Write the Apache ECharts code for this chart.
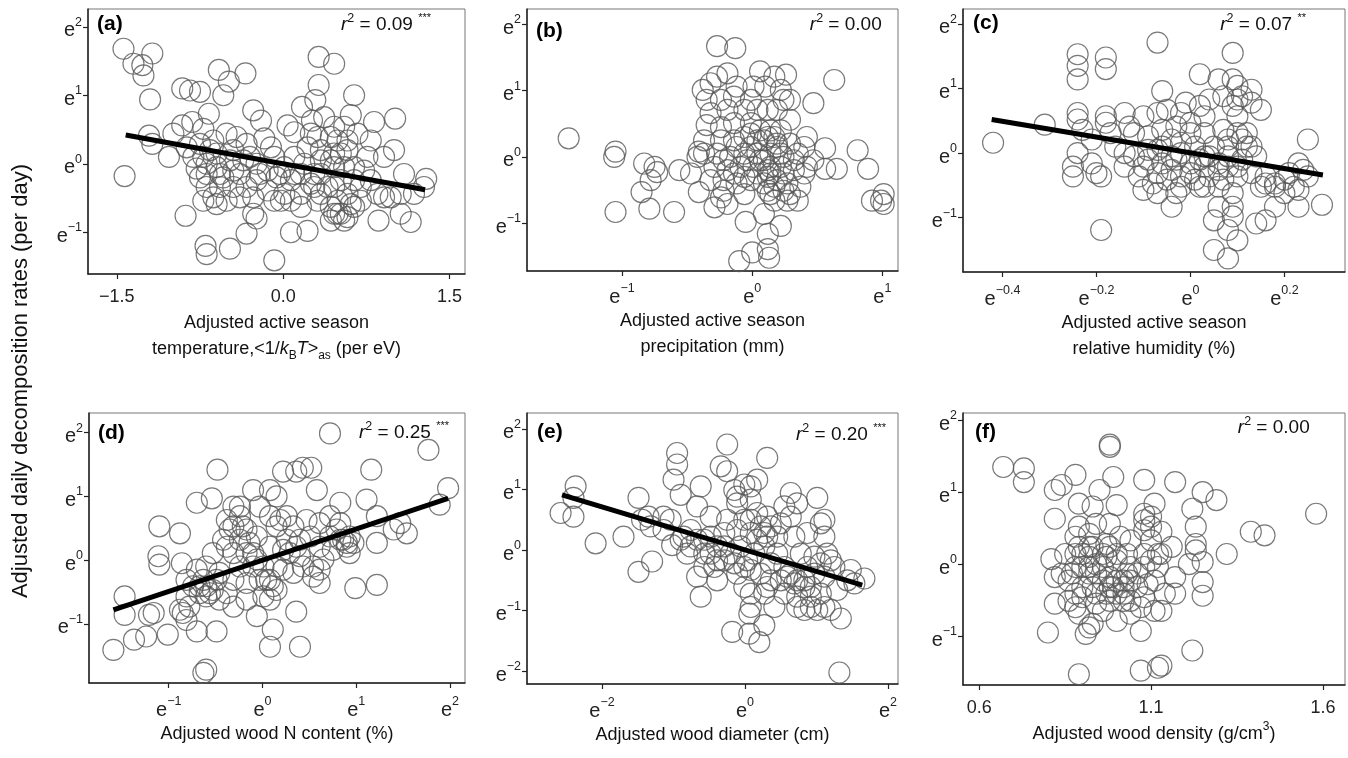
<!DOCTYPE html>
<html>
<head>
<meta charset="utf-8">
<script src="https://cdn.jsdelivr.net/npm/echarts@6/dist/echarts.min.js"></script>
<style>
  html, body { margin: 0; padding: 0; background: #fff; }
  #main { width: 1348px; height: 758px; }
</style>
</head>
<body>
<div id="main"></div>
<script>
// values are plotted on the natural-log scale (except x of a and f)
var ptsA = [[-1.44,1.68],[-1.35,1.46],[-1.18,1.61],[-1.27,1.44],[-1.26,1.29],[-1.20,0.94],[-1.43,-0.18],[-1.21,0.41],[-1.18,0.29],[-1.03,0.10],
  [-0.99,0.44],[-0.91,1.10],[-0.84,1.07],[-0.75,1.05],[-0.58,1.37],[-0.49,1.20],[-0.34,1.32],[-0.54,1.00],[-0.67,0.73],[-0.27,0.78],
  [-0.20,0.63],[-0.91,0.56],[-0.82,0.61],[-0.72,0.51],[-0.63,0.34],[-0.75,0.29],[-0.66,0.20],[-0.51,0.44],[-0.42,0.39],[-0.33,0.29],
  [-0.17,0.37],[-0.08,0.10],[0.04,0.56],[0.10,0.46],[-0.75,-0.20],[-0.69,-0.34],[-0.63,-0.49],[-0.57,-0.15],[-0.48,0.05],[-0.60,-0.05],
  [-0.39,-0.15],[-0.33,-0.34],[-0.24,-0.24],[-0.14,-0.10],[-0.06,-0.20],[0.01,-0.44],[0.10,-0.15],[0.19,0.00],[0.25,-0.29],[0.34,-0.15],
  [0.40,-0.34],[0.46,-0.05],[0.52,-0.24],[0.58,-0.44],[0.64,-0.24],[0.70,-0.54],[-0.88,-0.76],[-0.70,-1.20],[-0.69,-1.32],[-0.48,-1.24],
  [-0.33,-1.02],[-0.24,-0.80],[-0.08,-1.41],[0.07,-1.00],[0.22,-0.98],[0.43,-0.83],[0.86,-0.83],[1.15,-0.85],[1.06,-0.73],[0.58,-0.78],
  [0.52,-0.73],[1.29,-0.22],[1.09,-0.15],[1.18,-0.44],[1.00,0.20],[0.91,0.10],[0.79,0.34],[0.97,-0.49],[0.73,-0.10],[0.32,1.56],
  [0.46,1.46],[0.32,1.15],[0.29,0.93],[0.17,0.83],[0.64,1.00],[0.61,0.71],[1.01,0.66],[0.82,0.61],[0.26,0.63],[0.37,0.68],
  [0.46,0.54],[0.49,0.34],[0.43,0.39],[0.55,0.54],[0.67,0.44],[0.31,0.39],[0.22,0.24],[0.34,0.20],[0.46,0.15],[0.58,0.20],
  [0.76,0.10],[0.10,0.10],[-0.11,0.24],[-0.81,0.10],[-0.87,0.24],[-0.78,-0.07],[-0.45,-0.34],[-0.27,-0.49],[-0.14,-0.39],[0.07,-0.54],
  [0.16,-0.44],[0.31,-0.54],[0.43,-0.63],[0.49,-0.54],[0.64,-0.63],[0.85,-0.44],[0.79,-0.24],[-0.51,-0.54],[-0.57,-0.34],[-0.27,-0.73],
  [-0.36,0.05],[-0.24,0.00],[-0.03,-0.15],[-0.69,0.00],[-0.08,-0.54],[0.52,0.15],[0.64,-0.05],[0.28,-0.34],[0.46,-0.73],[1.27,-0.34],
  [-0.72,0.10],[-0.60,0.15],[-0.45,0.20],[-0.30,0.10],[-0.21,-0.15],[-0.39,-0.49],[-0.60,-0.59],[-0.72,-0.54],[0.01,-0.05],[0.07,-0.24],
  [0.16,-0.15],[0.28,-0.15],[0.34,-0.44],[0.46,-0.34],[0.55,-0.05],[0.61,-0.59],[0.70,-0.34],[0.43,0.05],[0.34,0.05],[0.58,0.34],
  [0.49,-0.73],[0.55,-0.83],[0.16,-0.63],[-0.02,-0.54],[-0.45,-0.10],[-0.54,-0.20],[-0.69,-0.15],[0.91,-0.49],[1.06,-0.44],[0.25,0.44]];

var ptsB = [[-1.41,0.28],[-1.06,0.00],[-1.05,0.08],[-1.05,-0.83],[-0.83,-0.10],[-0.75,-0.15],[-0.73,-0.23],[-0.78,-0.35],[-0.85,-0.53],[-0.79,-0.78],
  [-0.60,-0.83],[-0.56,-0.20],[-0.41,0.08],[-0.41,-0.53],[-0.27,1.67],[-0.13,1.64],[-0.27,1.21],[-0.19,1.26],[-0.38,1.01],[-0.35,0.86],
  [0.06,1.29],[0.17,1.21],[0.26,1.24],[0.01,1.06],[0.10,1.06],[0.22,1.01],[0.63,1.16],[0.47,0.81],[0.29,0.86],[-0.24,0.86],
  [-0.19,0.71],[-0.32,0.66],[-0.06,0.71],[0.12,0.71],[0.29,0.56],[-0.35,0.48],[-0.24,0.45],[-0.14,0.51],[-0.01,0.51],[0.14,0.40],
  [0.42,0.30],[0.56,0.13],[0.81,0.10],[0.65,-0.18],[0.89,-0.18],[0.56,-0.18],[1.01,-0.56],[0.92,-0.66],[1.01,-0.71],[0.99,-0.66],
  [-0.24,0.25],[-0.14,0.25],[-0.06,0.30],[0.04,0.25],[0.12,0.30],[0.19,0.20],[0.29,0.20],[-0.27,0.05],[-0.17,0.00],[-0.06,0.05],
  [0.04,0.05],[0.14,0.05],[0.24,0.00],[0.35,0.05],[-0.29,-0.15],[-0.19,-0.20],[-0.09,-0.15],[0.01,-0.15],[0.12,-0.20],[0.22,-0.15],
  [0.32,-0.20],[0.42,-0.15],[-0.32,-0.35],[-0.22,-0.35],[-0.12,-0.40],[-0.01,-0.35],[0.09,-0.40],[0.17,-0.45],[0.27,-0.40],[0.37,-0.45],
  [-0.24,-0.61],[-0.19,-0.71],[-0.06,-0.56],[0.17,-0.66],[0.27,-0.66],[0.09,-0.86],[0.22,-1.04],[-0.05,-0.98],[0.12,-1.16],[0.12,-1.39],
  [0.13,-1.52],[0.00,-1.44],[-0.10,-1.57],[-0.47,-0.25],[-0.01,0.15],[0.09,-0.05],[0.14,-0.25],[0.06,0.40],[0.22,0.40],[-0.14,0.91],
  [0.40,-0.25],[0.47,-0.05],[-0.37,0.25],[-0.06,-0.30],[0.24,-0.25],[0.12,-0.51],[-0.22,-0.51],[0.35,-0.66],[0.19,0.15],[0.04,0.71],
  [0.06,-0.05],[0.14,-0.15],[0.19,-0.35],[0.12,-0.30],[0.04,-0.25],[0.22,0.05],[0.09,0.25],[0.17,0.30],[-0.01,0.35],[-0.12,0.15],
  [-0.22,-0.05],[-0.14,-0.25],[-0.04,-0.05],[0.24,-0.51],[0.14,-0.56],[0.32,-0.05],[0.40,0.15],[-0.32,1.11],[-0.12,1.06],[-0.01,0.86],
  [0.19,0.71],[0.24,0.86],[-0.37,0.05],[-0.42,0.00],[-0.29,-0.76],[0.29,-0.56]];

var ptsC = [[-0.42,0.16],[-0.31,0.44],[-0.24,1.53],[-0.24,1.35],[-0.24,1.14],[-0.18,1.48],[-0.18,1.30],[-0.07,1.71],[0.09,1.55],[-0.24,0.62],
  [-0.24,0.52],[-0.23,0.36],[-0.18,0.57],[-0.18,0.47],[-0.24,0.00],[-0.25,-0.21],[-0.25,-0.36],[-0.21,-0.16],[-0.20,-0.31],[-0.19,-0.36],
  [-0.19,-1.19],[-0.21,0.21],[-0.16,0.10],[-0.14,0.62],[-0.10,0.57],[-0.06,0.96],[-0.05,0.67],[-0.02,0.62],[0.02,1.22],[0.06,1.14],
  [0.04,0.83],[0.02,0.73],[0.09,1.14],[0.10,1.04],[0.11,0.88],[0.13,0.78],[0.15,0.67],[0.09,0.73],[0.10,0.57],[-0.12,0.31],
  [-0.09,0.26],[-0.06,0.36],[-0.03,0.41],[0.00,0.47],[0.03,0.31],[0.07,0.36],[0.10,0.31],[0.12,0.10],[0.08,0.10],[0.05,0.10],
  [0.01,0.10],[-0.02,0.16],[-0.06,0.10],[-0.09,0.05],[-0.12,-0.05],[-0.09,-0.10],[-0.06,-0.16],[-0.03,-0.10],[0.00,-0.16],[0.03,-0.21],
  [0.06,-0.16],[0.08,-0.21],[0.11,-0.10],[0.14,-0.05],[-0.11,-0.36],[-0.08,-0.47],[-0.05,-0.41],[-0.02,-0.36],[0.01,-0.41],[0.04,-0.36],
  [0.07,-0.41],[0.10,-0.36],[-0.10,-0.57],[-0.07,-0.62],[-0.04,-0.83],[-0.02,-0.52],[0.02,-0.52],[0.09,-0.62],[0.09,-0.83],[0.09,-0.98],
  [0.08,-1.19],[0.10,-1.35],[0.05,-1.04],[0.05,-1.50],[0.08,-1.63],[0.14,-1.09],[0.16,-1.04],[0.18,-0.83],[0.16,-0.47],[0.18,-0.52],
  [0.20,-0.41],[0.16,-0.36],[0.23,-0.16],[0.24,-0.26],[0.25,0.21],[0.23,-0.57],[0.23,-0.83],[0.28,-0.80],[0.25,-0.36],[0.13,-0.31],
  [0.07,0.88],[-0.01,0.78],[-0.14,-0.21],[0.06,-0.83],[0.12,0.31],[0.20,-0.62],[-0.17,0.31],[-0.07,0.62],[0.03,-0.05],[-0.03,-0.62],
  [-0.07,0.05],[-0.04,-0.05],[-0.02,0.00],[0.02,-0.10],[0.04,-0.05],[0.06,-0.26],[0.08,-0.05],[0.10,-0.21],[-0.10,-0.21],[-0.07,-0.31],
  [-0.04,-0.26],[0.00,-0.31],[0.03,-0.52],[0.06,-0.52],[-0.04,0.21],[0.00,0.31],[0.03,0.57],[0.08,0.21],[0.11,0.21],[0.13,0.10],
  [0.13,0.98],[0.10,0.83],[-0.13,0.41],[-0.14,0.00],[0.15,-0.52],[0.21,-0.31],[0.22,-0.52],[0.18,-0.47]];

var ptsD = [[-1.59,-1.41],[-1.47,-0.57],[-1.47,-0.86],[-1.37,-1.25],[-1.24,-1.20],[-1.21,-0.86],[-1.16,-0.83],[-1.10,0.53],[-1.11,0.06],[-1.10,-0.07],
  [-1.01,-1.17],[-0.88,0.42],[-0.86,-0.05],[-0.88,-0.78],[-0.81,-0.94],[-0.70,0.90],[-0.54,0.97],[-0.48,1.42],[-0.60,-1.72],[-0.63,-1.77],
  [-0.49,-1.12],[-0.70,-1.12],[-0.74,-0.41],[-0.67,-0.52],[-0.60,-0.57],[-0.53,-0.47],[-0.46,-0.62],[-0.78,-0.73],[-0.70,-0.15],[-0.60,-0.10],
  [-0.53,0.11],[-0.42,0.32],[-0.35,0.48],[-0.31,0.84],[-0.24,0.69],[-0.21,0.53],[-0.31,0.11],[-0.24,-0.10],[-0.17,0.11],[-0.31,-0.73],
  [-0.17,-0.62],[-0.10,1.10],[-0.03,0.84],[-0.06,0.37],[-0.06,0.01],[-0.03,-0.31],[0.01,-0.57],[-0.06,-0.88],[0.08,1.10],[0.15,1.00],
  [0.22,1.39],[0.36,1.39],[0.43,1.45],[0.52,1.45],[0.58,1.10],[0.08,0.69],[0.15,0.53],[0.26,0.69],[0.33,0.53],[0.08,0.21],
  [0.22,0.16],[0.36,0.21],[0.15,-0.10],[0.08,-0.31],[0.15,-0.47],[0.08,-0.62],[0.11,-1.09],[0.08,-1.36],[0.36,-0.81],[0.40,-1.36],
  [0.43,-0.10],[0.54,-0.26],[0.61,-0.36],[0.51,0.37],[0.61,0.58],[0.72,0.69],[0.83,0.90],[0.72,1.99],[0.79,0.48],[0.86,0.32],
  [0.97,0.27],[0.90,0.21],[0.75,0.16],[0.65,0.01],[0.99,-0.44],[1.22,-0.39],[1.11,0.95],[1.16,1.42],[1.22,0.69],[1.22,0.27],
  [1.40,0.48],[1.47,0.58],[1.54,0.42],[1.77,1.73],[1.89,0.87],[1.98,1.13],[-0.38,0.63],[-0.14,0.27],[0.33,-0.20],[0.61,0.21],
  [0.26,0.32],[-0.46,-0.20],[-0.17,-0.36],[-0.85,-0.83],[0.47,0.63],[0.93,0.11],[0.40,0.06],[-0.31,-0.31],[-0.10,-0.10],[-0.63,-0.31],
  [-0.81,-0.57],[-0.67,-0.41],[-0.56,-0.52],[-0.60,-0.41],[-0.81,-0.31],[-0.49,-0.31],[-0.38,-0.52],[-0.24,0.32],[-0.17,0.48],[-0.10,0.11],
  [0.01,-0.10],[0.04,-0.31],[0.11,-0.41],[0.22,-0.15],[0.29,0.11],[0.40,0.32],[0.54,-0.10],[0.61,-0.15],[0.72,0.37],[0.83,0.32],
  [0.90,0.27],[0.93,0.37],[0.83,0.58],[0.19,0.63],[-0.31,0.53],[-0.38,0.21],[-0.24,0.84]];

var ptsE = [[-2.58,0.61],[-2.40,0.55],[-2.37,1.05],[-2.40,0.86],[-2.09,0.11],[-1.70,0.22],[-1.49,0.86],[-1.49,-0.36],[-1.30,-0.19],[-1.44,0.50],
  [-1.32,0.39],[-1.35,0.55],[-1.14,0.55],[-0.95,1.60],[-0.95,1.41],[-1.00,1.16],[-0.90,0.91],[-0.62,1.05],[-1.04,0.50],[-1.02,0.08],
  [-0.90,0.17],[-0.76,0.33],[-0.67,0.72],[-0.62,-0.77],[-0.67,-0.44],[-0.57,-0.06],[-0.48,0.22],[-0.48,0.55],[-0.34,1.38],[-0.25,1.74],
  [-0.25,1.30],[-0.15,0.99],[-0.39,0.06],[-0.29,-0.17],[-0.43,-0.28],[-0.39,-0.50],[-0.18,-1.35],[-0.11,-0.39],[-0.01,-0.61],[0.08,-0.94],
  [0.06,-1.05],[0.06,-1.38],[0.20,-1.52],[0.27,-1.24],[0.31,1.52],[0.17,1.16],[-0.01,1.08],[0.08,0.83],[0.17,0.61],[0.31,0.55],
  [0.36,0.39],[-0.01,0.50],[0.08,0.28],[-0.11,0.33],[-0.25,0.50],[-0.06,0.06],[0.13,-0.06],[0.27,0.06],[0.45,0.22],[0.64,0.94],
  [0.73,0.77],[1.01,0.86],[0.64,0.55],[1.06,0.44],[0.87,0.28],[1.11,0.22],[0.78,-0.06],[0.97,-0.11],[1.15,-0.06],[1.20,-0.17],
  [1.25,-0.28],[0.55,-0.28],[0.59,-0.44],[0.69,-0.55],[0.83,-0.50],[0.92,-0.61],[1.06,-0.72],[1.01,-0.99],[0.83,-0.99],[0.92,-0.94],
  [1.20,-0.99],[1.34,-1.13],[1.29,-0.66],[1.48,-0.33],[1.67,-0.47],[1.53,-0.55],[1.32,-2.02],[0.36,-0.22],[0.36,-0.50],[0.41,-0.94],
  [0.27,-0.72],[-0.01,-0.28],[0.45,-0.06],[0.69,0.22],[-0.67,0.17],[-0.81,-0.06],[-0.57,-0.28],[0.55,-0.72],[0.73,-0.77],[1.11,-0.44],
  [0.50,0.44],[-0.11,0.77],[0.08,-0.33],[0.87,-0.28],[-0.29,0.28],[0.27,0.28],[0.55,0.72],[0.08,-0.72],[-1.14,0.33],[1.43,-0.50],
  [-0.48,-0.06],[-0.39,-0.17],[-0.29,0.06],[-0.20,-0.06],[-0.15,-0.22],[-0.57,0.17],[-0.76,0.06],[-0.86,0.22],[0.08,0.50],[0.22,0.39],
  [0.31,0.22],[0.17,0.17],[0.64,-0.39],[0.73,-0.50],[0.83,-0.61],[0.97,-0.39],[1.06,-0.22],[0.92,-0.77],[1.11,-0.94],[0.73,-0.94],
  [0.50,-0.50],[0.22,-0.39],[0.31,-0.61],[0.03,-0.17],[-0.11,0.88],[0.08,1.05],[1.11,0.50]];

var ptsF = [[0.67,1.35],[0.73,1.33],[0.73,1.14],[0.98,1.63],[0.98,1.66],[0.82,1.03],[0.84,1.10],[0.88,1.24],[0.99,1.21],[1.08,1.17],
  [1.17,1.14],[1.25,1.00],[1.29,0.89],[1.22,0.77],[1.23,0.52],[1.23,0.28],[1.23,0.19],[1.32,0.14],[1.39,0.45],[1.43,0.40],
  [1.58,0.70],[1.21,0.00],[1.25,0.03],[1.25,-0.25],[1.25,-0.44],[1.22,-1.20],[1.13,-1.41],[1.12,-1.44],[1.07,-1.48],[0.89,-1.53],
  [0.80,-0.95],[0.82,-0.55],[0.81,0.07],[0.82,-0.18],[0.82,0.63],[0.89,0.84],[0.93,0.80],[0.95,1.03],[1.00,0.82],[1.11,0.84],
  [1.08,0.61],[1.10,0.66],[1.13,0.45],[1.16,0.24],[1.13,0.14],[1.17,-0.18],[1.14,-0.41],[1.13,-0.65],[1.11,-0.65],[1.07,-0.93],
  [0.92,-0.88],[0.91,-0.97],[0.93,-0.83],[1.00,-0.79],[0.88,-0.60],[0.88,-0.41],[0.86,-0.23],[0.88,-0.04],[0.90,0.14],[0.88,0.38],
  [0.89,0.52],[0.94,0.56],[0.98,0.56],[1.01,0.38],[0.97,0.28],[0.93,0.24],[0.94,0.00],[0.92,-0.13],[0.96,-0.04],[0.98,-0.18],
  [1.00,0.05],[1.02,-0.23],[1.04,-0.04],[1.06,-0.32],[1.08,0.14],[1.10,0.33],[1.12,-0.04],[1.11,-0.23],[1.08,-0.46],[1.02,-0.51],
  [0.97,-0.41],[0.93,-0.32],[0.90,-0.46],[0.96,-0.65],[1.04,-0.69],[1.00,-0.23],[0.84,-0.13],[0.85,0.14],[0.92,0.42],[1.04,0.33],
  [1.03,0.14],[0.97,0.10],[0.92,0.10],[1.02,-0.41],[0.94,-0.55],[1.08,0.47],[1.17,-0.41],[0.86,-0.51],[0.99,-0.32],[1.03,-0.13],
  [0.90,-0.04],[0.92,-0.04],[0.94,-0.13],[0.96,-0.23],[0.98,-0.32],[1.00,-0.41],[1.02,-0.32],[1.04,-0.23],[1.06,-0.13],[0.96,0.14],
  [0.98,0.24],[1.00,0.14],[0.92,0.24],[0.89,0.24],[0.88,0.14],[0.87,-0.13],[0.90,-0.32],[0.94,-0.41],[1.08,-0.04],[1.10,0.05],
  [1.12,0.14],[1.09,-0.28],[0.98,-0.51],[1.04,-0.51],[1.07,-0.60],[0.89,-0.69],[1.10,0.52],[1.08,0.70]];

// fitted regression lines (end points)
var fitA = [[-1.42, 0.42], [1.28, -0.38]];
var fitC = [[-0.423, 0.52], [0.282, -0.34]];
var fitD = [[-1.59, -0.78], [1.98, 0.97]];
var fitE = [[-2.56, 0.91], [1.64, -0.58]];

// tick values
var yTicks = [-1, 0, 1, 2];
var yTicksE = [-2, -1, 0, 1, 2];
var xTicksA = [-1.5, 0, 1.5];
var xTicksB = [-1, 0, 1];
var xTicksC = [-0.4, -0.2, 0, 0.2];
var xTicksD = [-1, 0, 1, 2];
var xTicksE = [-2, 0, 2];
var xTicksF = [0.6, 1.1, 1.6];

var r2Text = ['0.09', '0.00', '0.07', '0.25', '0.20', '0.00'];
var r2Stars = ['***', '', '**', '***', '***', ''];

var FONT = '"Liberation Sans", Arial, sans-serif';
var chart = echarts.init(document.getElementById('main'));

function minus(v) { return String(v).replace('-', '\u2212'); }
function expLab(v) { return '{b|e}{s|' + minus(v) + '}'; }
function linLab(v) { return '{n|' + v.toFixed(1).replace('-', '\u2212') + '}'; }

var richTick = {
  b: { fontFamily: FONT, fontSize: 20, color: '#222', lineHeight: 30 },
  s: { fontFamily: FONT, fontSize: 12.5, color: '#222', verticalAlign: 'top', lineHeight: 13 },
  n: { fontFamily: FONT, fontSize: 18, color: '#222', lineHeight: 30 }
};
var richName = {
  t: { fontFamily: FONT, fontSize: 18, color: '#111', lineHeight: 26 },
  i: { fontFamily: FONT, fontSize: 18, color: '#111', fontStyle: 'italic', lineHeight: 26 },
  sub: { fontFamily: FONT, fontSize: 12, color: '#111', verticalAlign: 'bottom', lineHeight: 14 },
  sup: { fontFamily: FONT, fontSize: 12, color: '#111', verticalAlign: 'top', lineHeight: 12 }
};

var panels = [
  { pts: ptsA, fit: fitA, box: [88, 9, 377, 265], x: [-1.76, 1.64], y: [-1.61, 2.26], xt: xTicksA, yt: yTicks, xl: linLab, xm: 8,
    name: '{t|Adjusted active season}\n{t|temperature,<1/}{i|k}{sub|B}{i|T}{t|>}{sub|as}{t| (per eV)}', tag: '(a)', tagPos: [97, 24], r2Pos: [431, 25] },
  { pts: ptsB, fit: null, box: [527, 9, 371, 262], x: [-1.73, 1.12], y: [-1.72, 2.23], xt: xTicksB, yt: yTicks, xl: expLab, xm: 11,
    name: '{t|Adjusted active season}\n{t|precipitation (mm)}', tag: '(b)', tagPos: [536, 31], r2Pos: [887, 25] },
  { pts: ptsC, fit: fitC, box: [963, 9, 382, 263], x: [-0.484, 0.329], y: [-1.84, 2.23], xt: xTicksC, yt: yTicks, xl: expLab, xm: 12,
    name: '{t|Adjusted active season}\n{t|relative humidity (%)}', tag: '(c)', tagPos: [973, 23], r2Pos: [1306, 25] },
  { pts: ptsD, fit: fitD, box: [89, 413, 376, 270], x: [-1.85, 2.16], y: [-1.93, 2.31], xt: xTicksD, yt: yTicks, xl: expLab, xm: 12,
    name: '{t|Adjusted wood N content (%)}', tag: '(d)', tagPos: [98, 433], r2Pos: [449, 433] },
  { pts: ptsE, fit: fitE, box: [527, 413, 371, 271], x: [-3.05, 2.14], y: [-2.21, 2.26], xt: xTicksE, yt: yTicksE, xl: expLab, xm: 12,
    name: '{t|Adjusted wood diameter (cm)}', tag: '(e)', tagPos: [537, 432], r2Pos: [886, 435] },
  { pts: ptsF, fit: null, box: [963, 413, 382, 272], x: [0.553, 1.664], y: [-1.68, 2.10], xt: xTicksF, yt: yTicks, xl: linLab, xm: 8,
    name: '{t|Adjusted wood density (g/cm}{sup|3}{t|)}', tag: '(f)', tagPos: [975, 432], r2Pos: [1315, 428] }
];

var grids = [], xAxes = [], yAxes = [], series = [], graphics = [];

panels.forEach(function (p, i) {
  grids.push({
    left: p.box[0], top: p.box[1], width: p.box[2], height: p.box[3],
    show: true, borderColor: '#777', borderWidth: 1, backgroundColor: 'transparent'
  });
  xAxes.push({
    type: 'value', gridIndex: i, min: p.x[0], max: p.x[1],
    splitLine: { show: false },
    axisLine: { show: true, onZero: false, lineStyle: { color: '#222', width: 1.5 } },
    axisTick: { show: true, length: 5, customValues: p.xt, lineStyle: { color: '#222', width: 1.2 } },
    axisLabel: { customValues: p.xt, formatter: p.xl, margin: p.xm, rich: richTick, color: '#222', fontFamily: FONT, fontSize: 18 },
    name: p.name, nameLocation: 'middle', nameGap: 36,
    nameTextStyle: { rich: richName, fontFamily: FONT, fontSize: 18, color: '#111', lineHeight: 26 }
  });
  yAxes.push({
    type: 'value', gridIndex: i, min: p.y[0], max: p.y[1],
    splitLine: { show: false },
    axisLine: { show: true, onZero: false, lineStyle: { color: '#222', width: 1.5 } },
    axisTick: { show: true, length: 5, customValues: p.yt, lineStyle: { color: '#222', width: 1.2 } },
    axisLabel: { customValues: p.yt, formatter: expLab, margin: 6, padding: [8, 0, 0, 0], rich: richTick, color: '#222', fontFamily: FONT, fontSize: 18 }
  });
  series.push({
    type: 'scatter', xAxisIndex: i, yAxisIndex: i, data: p.pts,
    symbol: 'circle', symbolSize: 21, silent: true,
    itemStyle: { color: 'rgba(0,0,0,0)', borderColor: '#575757', borderWidth: 1.15 }
  });
  if (p.fit) {
    series.push({
      type: 'line', xAxisIndex: i, yAxisIndex: i, data: p.fit, symbol: 'none', silent: true, z: 5,
      lineStyle: { color: '#000', width: 5 }
    });
  }
  graphics.push({
    type: 'text', x: p.tagPos[0], y: p.tagPos[1], z: 10,
    style: { text: p.tag, font: 'bold 21px ' + FONT, fill: '#000', verticalAlign: 'middle' }
  });
  graphics.push({
    type: 'text', x: p.r2Pos[0], y: p.r2Pos[1], z: 10,
    style: {
      text: '{i|r}{s|2}{n| = ' + r2Text[i] + ' }{st|' + r2Stars[i] + '}',
      align: 'right', verticalAlign: 'middle',
      rich: {
        i: { fontFamily: FONT, fontSize: 19, fontStyle: 'italic', fill: '#111', lineHeight: 26 },
        s: { fontFamily: FONT, fontSize: 12.5, fill: '#111', verticalAlign: 'top', lineHeight: 13 },
        n: { fontFamily: FONT, fontSize: 19, fill: '#111', lineHeight: 26 },
        st: { fontFamily: FONT, fontSize: 11, fill: '#111', verticalAlign: 'top', lineHeight: 12 }
      }
    }
  });
});

graphics.push({
  type: 'text', x: 21, y: 381, rotation: Math.PI / 2, z: 10,
  style: {
    text: 'Adjusted daily decomposition rates (per day)', font: '22px ' + FONT, fill: '#111',
    align: 'center', verticalAlign: 'middle'
  }
});

chart.setOption({
  animation: false,
  grid: grids,
  xAxis: xAxes,
  yAxis: yAxes,
  series: series,
  graphic: graphics
});
</script>
</body>
</html>
